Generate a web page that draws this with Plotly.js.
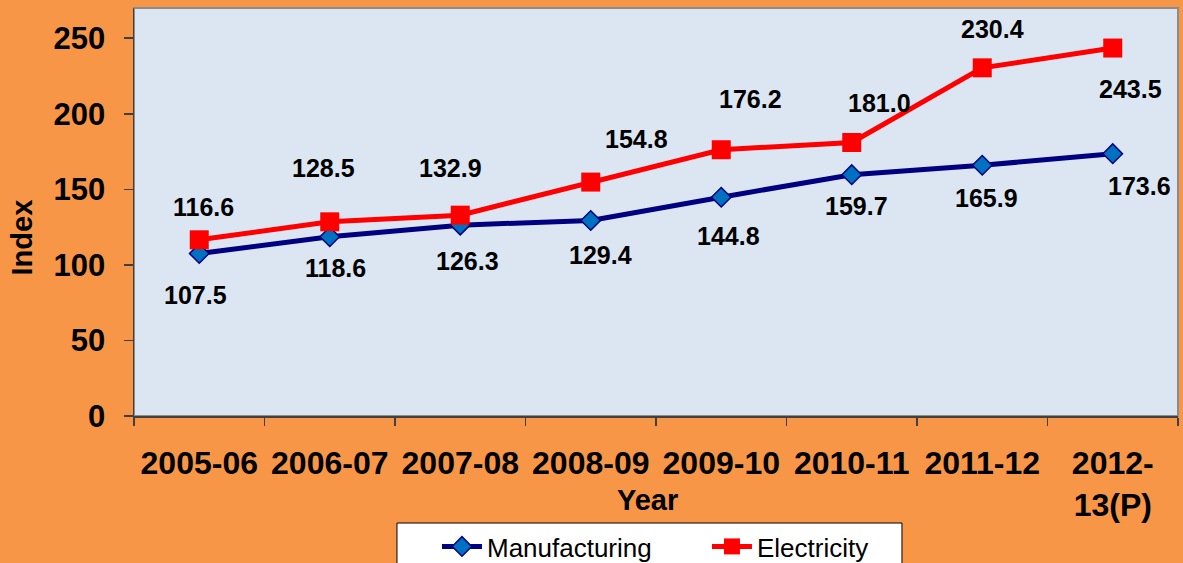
<!DOCTYPE html>
<html>
<head>
<meta charset="utf-8">
<script src="https://cdn.plot.ly/plotly-3.0.1.min.js"></script>
<style>
  html, body { margin: 0; padding: 0; background: #F79646; }
  #chart { width: 1183px; height: 563px; }
</style>
</head>
<body>
<div id="chart"></div>
<script>
// ---- data ----
const categories = ['2005-06', '2006-07', '2007-08', '2008-09', '2009-10', '2010-11', '2011-12', '2012-13(P)'];
const tickLabels = ['2005-06', '2006-07', '2007-08', '2008-09', '2009-10', '2010-11', '2011-12', '2012-<br>13(P)'];
const manufacturing = [107.5, 118.6, 126.3, 129.4, 144.8, 159.7, 165.9, 173.6];
const electricity = [116.6, 128.5, 132.9, 154.8, 176.2, 181.0, 230.4, 243.5];
const yTicks = [0, 50, 100, 150, 200, 250];

// ---- label placement (pixel offsets from each point: [dx, dy], dy downward) ----
const mfgLabelOffset = [[-4, 41], [6, 31], [7, 36], [10, 35], [7, 39], [5, 31], [4.5, 32.5], [27, 32]];
const elecLabelOffset = [[4, -33], [-6, -54], [-10, -47.5], [46, -43], [29, -50.5], [28, -39], [10, -39], [17.5, 41]];

const FONT = '"Liberation Sans", Arial, sans-serif';

function labels(values, offsets) {
  return values.map((v, i) => ({
    x: categories[i], y: v, xref: 'x', yref: 'y',
    text: v.toFixed(1), showarrow: false,
    xanchor: 'center', yanchor: 'middle',
    xshift: offsets[i][0], yshift: -offsets[i][1],
    font: { family: FONT, size: 25, color: '#000000', weight: 'bold' }
  }));
}

const traces = [
  {
    type: 'scatter', mode: 'lines+markers', name: 'Manufacturing',
    x: categories, y: manufacturing,
    line: { color: '#000080', width: 5 },
    marker: { symbol: 'diamond', size: 15, color: '#0070C0', line: { color: '#000080', width: 1.5 } }
  },
  {
    type: 'scatter', mode: 'lines+markers', name: 'Electricity',
    x: categories, y: electricity,
    line: { color: '#FF0000', width: 5 },
    marker: { symbol: 'square', size: 19, color: '#FF0000', line: { color: '#FF0000', width: 0 } }
  }
];

const layout = {
  width: 1183, height: 563,
  margin: { l: 134, r: 5, t: 8, b: 147, pad: 0, autoexpand: false },
  paper_bgcolor: '#F79646',
  plot_bgcolor: '#DCE6F2',
  font: { family: FONT, color: '#000000' },
  showlegend: true,
  legend: {
    orientation: 'h', x: 0.2902, y: -0.2623, xanchor: 'left', yanchor: 'top',
    bgcolor: 'rgba(0,0,0,0)', borderwidth: 0,
    font: { family: FONT, size: 26, color: '#000000' },
    itemwidth: 40, entrywidth: 215
  },
  xaxis: {
    type: 'category', range: [-0.5, 7.5],
    tickmode: 'array', tickvals: categories, ticktext: tickLabels,
    tickson: 'boundaries', ticks: 'outside', ticklen: 8, tickcolor: '#404040', tickwidth: 1.5,
    showline: true, linecolor: '#404040', linewidth: 1.5,
    showgrid: false, zeroline: false, automargin: false,
    tickfont: { family: FONT, size: 32, color: '#000000', weight: 'bold' },
    ticklabelstandoff: 18
  },
  yaxis: {
    range: [0, 270],
    tickmode: 'array', tickvals: yTicks, ticktext: yTicks.map(String),
    ticks: 'outside', ticklen: 9, tickcolor: '#404040', tickwidth: 1.5,
    showline: true, linecolor: '#404040', linewidth: 1.5,
    showgrid: false, zeroline: false, automargin: false,
    tickfont: { family: FONT, size: 31, color: '#000000', weight: 'bold' },
    ticklabelstandoff: 12
  },
  shapes: [
    { type: 'rect', xref: 'paper', yref: 'paper', x0: 0, x1: 1, y0: 0, y1: 1,
      line: { color: '#8C8C8C', width: 2 }, fillcolor: 'rgba(0,0,0,0)', layer: 'below' },
    // legend box
    { type: 'rect', xref: 'paper', yref: 'paper', x0: 0.2519, x1: 0.7356, y0: -0.42, y1: -0.2623,
      line: { color: '#000000', width: 1 }, fillcolor: '#FFFFFF', layer: 'below' }
  ],
  annotations: [
    ...labels(manufacturing, mfgLabelOffset),
    ...labels(electricity, elecLabelOffset),
    { text: 'Year', xref: 'paper', yref: 'paper', x: 0.4914, y: -0.206,
      xanchor: 'center', yanchor: 'middle', showarrow: false,
      font: { family: FONT, size: 29, color: '#000000', weight: 'bold' } },
    { text: 'Index', xref: 'paper', yref: 'paper', x: -0.1073, y: 0.4375, textangle: -90,
      xanchor: 'center', yanchor: 'middle', showarrow: false,
      font: { family: FONT, size: 29, color: '#000000', weight: 'bold' } }
  ]
};

Plotly.newPlot('chart', traces, layout, { displayModeBar: false, staticPlot: true });
</script>
</body>
</html>
